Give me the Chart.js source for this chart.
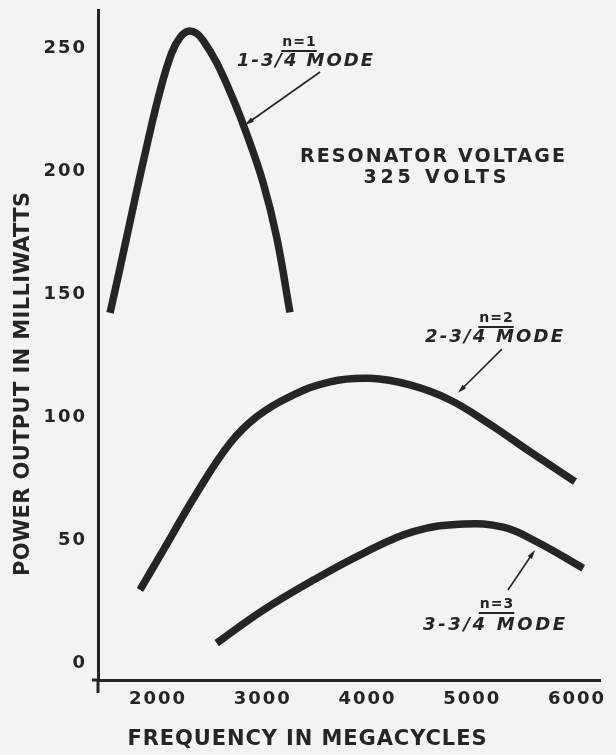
<!DOCTYPE html>
<html>
<head>
<meta charset="utf-8">
<script src="https://cdn.jsdelivr.net/npm/chart.js@4.4.1/dist/chart.umd.min.js"></script>
<style>
  html, body { margin: 0; padding: 0; background: #f3f3f1; }
  #wrap { width: 616px; height: 755px; position: relative; }
</style>
</head>
<body>
<div id="wrap"><canvas id="c" width="616" height="755"></canvas></div>
<script>
// Power output (milliwatts) against frequency (megacycles), resonator at 325 volts
const mode1Freq  = [1542, 1637, 1764, 1892, 2019, 2131, 2215, 2289, 2365, 2432, 2560, 2719, 2847, 3005, 3133, 3260];
const mode1Power = [142.3, 160.5, 185.5, 210, 232.5, 248, 254.5, 256.8, 256, 253, 244, 229, 215, 195, 173, 142.5];

const mode2Freq  = [1828, 2051, 2369, 2687, 2942, 3260, 3642, 4024, 4406, 4788, 5170, 5551, 5981];
const mode2Power = [29.7, 45.9, 69.0, 89.3, 100.1, 108.3, 114.3, 115.7, 113.0, 106.9, 97.0, 85.9, 73.7];

const mode3Freq  = [2560, 3005, 3483, 3960, 4437, 4915, 5296, 5615, 6060];
const mode3Power = [8.1, 21.5, 33.7, 44.6, 53.4, 56.5, 55.2, 49.3, 38.5];

const freqTicks  = [2000, 3000, 4000, 5000, 6000];
const powerTicks = [0, 50, 100, 150, 200, 250];

const modeTags  = ['n=1', 'n=2', 'n=3'];
const modeNames = ['1-3/4 MODE', '2-3/4 MODE', '3-3/4 MODE'];
const noteLines = ['RESONATOR VOLTAGE', '325 VOLTS'];
const xTitle = 'FREQUENCY IN MEGACYCLES';
const yTitle = 'POWER OUTPUT IN MILLIWATTS';

const ink = '#252525';
const FONT = '"DejaVu Sans", "Liberation Sans", sans-serif';

// Callout placement, in frequency / power units
const callouts = [
  { tag: [3346, 252.4], name: [3403, 244.7], from: [3547, 240.2], to: [2831, 218.7], nameWidth: 136 },
  { tag: [5227, 140.2], name: [5208, 132.5], from: [5284, 127.6], to: [4864, 109.8], nameWidth: 138 },
  { tag: [5232, 24.0],  name: [5208, 15.4],  from: [5341, 29.7],  to: [5599, 45.9],  nameWidth: 142 }
];
const notePlace = [[4620, 205.7, 265], [4644, 197.2, 143]];

function pts(xs, ys) { return xs.map((x, i) => ({ x: x, y: ys[i] })); }

// Draw text stretched/compressed by letter spacing to span a given width, centred on x
function spacedText(ctx, text, x, y, font, width) {
  ctx.font = font;
  ctx.letterSpacing = '0px';
  const w0 = ctx.measureText(text).width;
  const sp = text.length > 1 ? (width - w0) / (text.length - 1) : 0;
  ctx.letterSpacing = sp + 'px';
  ctx.textAlign = 'left';
  ctx.textBaseline = 'middle';
  ctx.fillText(text, x - width / 2, y);
  ctx.letterSpacing = '0px';
}

function arrow(ctx, x1, y1, x2, y2) {
  const a = Math.atan2(y2 - y1, x2 - x1);
  const len = 9, half = 2.6;
  ctx.beginPath();
  ctx.moveTo(x1, y1);
  ctx.lineTo(x2 - Math.cos(a) * len * 0.8, y2 - Math.sin(a) * len * 0.8);
  ctx.lineWidth = 1.6;
  ctx.stroke();
  ctx.beginPath();
  ctx.moveTo(x2, y2);
  ctx.lineTo(x2 - Math.cos(a) * len - Math.sin(a) * half, y2 - Math.sin(a) * len + Math.cos(a) * half);
  ctx.lineTo(x2 - Math.cos(a) * len + Math.sin(a) * half, y2 - Math.sin(a) * len - Math.cos(a) * half);
  ctx.closePath();
  ctx.fill();
}

const lettering = {
  id: 'lettering',
  beforeDraw(chart) {
    chart.ctx.letterSpacing = '2px';
  },
  afterDraw(chart) {
    const ctx = chart.ctx;
    const xs = chart.scales.x, ys = chart.scales.y;
    const px = f => xs.getPixelForValue(f);
    const py = v => ys.getPixelForValue(v);
    const area = chart.chartArea;
    ctx.save();
    ctx.letterSpacing = '0px';
    ctx.fillStyle = ink;
    ctx.strokeStyle = ink;

    // axis stubs beyond the crossing point
    ctx.lineWidth = 3;
    ctx.beginPath();
    ctx.moveTo(area.left, area.bottom);
    ctx.lineTo(area.left, area.bottom + 13);
    ctx.moveTo(area.left - 6, area.bottom);
    ctx.lineTo(area.left, area.bottom);
    ctx.stroke();

    // axis titles
    spacedText(ctx, xTitle, 307, 740, 'bold 21px ' + FONT, 359);
    ctx.save();
    ctx.translate(24, 384);
    ctx.rotate(-Math.PI / 2);
    spacedText(ctx, yTitle, 0, 0, 'bold 21px ' + FONT, 384);
    ctx.restore();

    // operating note
    noteLines.forEach((t, i) => {
      const p = notePlace[i];
      spacedText(ctx, t, px(p[0]), py(p[1]), 'bold 19px ' + FONT, p[2]);
    });

    // mode callouts
    callouts.forEach((c, i) => {
      const tx = px(c.tag[0]), ty = py(c.tag[1]);
      ctx.font = 'bold 14px ' + FONT;
      ctx.letterSpacing = '1px';
      const tw = ctx.measureText(modeTags[i]).width - 1;
      ctx.textAlign = 'left';
      ctx.textBaseline = 'middle';
      ctx.fillText(modeTags[i], tx - tw / 2, ty);
      ctx.letterSpacing = '0px';
      ctx.lineWidth = 2;
      ctx.beginPath();
      ctx.moveTo(tx - tw / 2 - 1, ty + 9);
      ctx.lineTo(tx + tw / 2 + 1, ty + 9);
      ctx.stroke();

      spacedText(ctx, modeNames[i], px(c.name[0]), py(c.name[1]), 'italic bold 18px ' + FONT, c.nameWidth);

      arrow(ctx, px(c.from[0]), py(c.from[1]), px(c.to[0]), py(c.to[1]));
    });
    ctx.restore();
  }
};

const tickFont = { family: FONT, weight: 'bold', size: 18 };

new Chart(document.getElementById('c'), {
  type: 'line',
  data: {
    datasets: [
      { label: modeTags[0], data: pts(mode1Freq, mode1Power) },
      { label: modeTags[1], data: pts(mode2Freq, mode2Power) },
      { label: modeTags[2], data: pts(mode3Freq, mode3Power) }
    ]
  },
  options: {
    responsive: false,
    animation: false,
    events: [],
    layout: { padding: { top: 10, right: 16, left: 0, bottom: 0 } },
    plugins: { legend: { display: false }, tooltip: { enabled: false } },
    elements: {
      point: { radius: 0 },
      line: {
        borderWidth: 7.5,
        borderColor: ink,
        borderCapStyle: 'butt',
        borderJoinStyle: 'round',
        tension: 0.4,
        fill: false
      }
    },
    scales: {
      x: {
        type: 'linear',
        min: 1427,
        max: 6220,
        afterBuildTicks: s => { s.ticks = freqTicks.map(v => ({ value: v })); },
        afterFit: s => { s.height = 75; s.paddingLeft = 0; s.paddingRight = 0; },
        grid: { display: false, drawTicks: false },
        border: { display: true, color: ink, width: 3 },
        ticks: {
          color: ink, font: tickFont, padding: 9,
          autoSkip: false, maxRotation: 0, minRotation: 0,
          callback: v => String(v)
        }
      },
      y: {
        type: 'linear',
        min: -6.9,
        max: 265.4,
        afterBuildTicks: s => { s.ticks = powerTicks.map(v => ({ value: v })); },
        afterFit: s => { s.width = 98; s.paddingTop = 0; s.paddingBottom = 0; },
        grid: { display: false, drawTicks: false },
        border: { display: true, color: ink, width: 3 },
        ticks: {
          color: ink, font: tickFont, padding: 11,
          autoSkip: false,
          callback: v => String(v)
        }
      }
    }
  },
  plugins: [lettering]
});
</script>
</body>
</html>
